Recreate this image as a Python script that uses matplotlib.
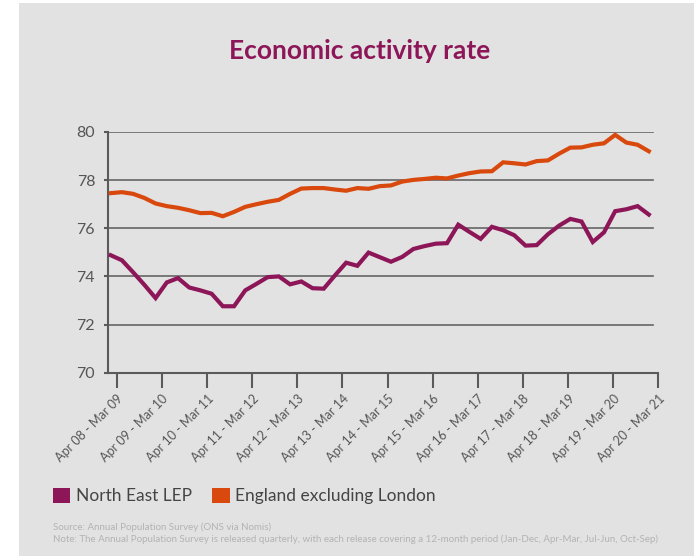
import numpy as np
import matplotlib.pyplot as plt
from matplotlib.patches import Rectangle, Patch

plt.rcParams['font.family'] = ['Lato', 'DejaVu Sans']

# Quarterly releases, Apr 08 - Mar 09 through Apr 20 - Mar 21
north_east = [74.88, 74.67, 74.17, 73.65, 73.10, 73.75, 73.93, 73.54, 73.42, 73.28,
              72.76, 72.76, 73.42, 73.69, 73.97, 74.00, 73.67, 73.79, 73.51, 73.49,
              74.04, 74.57, 74.44, 74.99, 74.80, 74.61, 74.81, 75.14, 75.26, 75.36,
              75.38, 76.15, 75.85, 75.56, 76.06, 75.92, 75.71, 75.28, 75.30, 75.75,
              76.11, 76.39, 76.28, 75.43, 75.83, 76.71, 76.79, 76.92, 76.57]
england_ex_london = [77.46, 77.50, 77.43, 77.26, 77.03, 76.92, 76.85, 76.75, 76.63, 76.64,
                     76.50, 76.68, 76.89, 77.00, 77.10, 77.18, 77.43, 77.65, 77.67, 77.67,
                     77.61, 77.56, 77.67, 77.64, 77.75, 77.78, 77.94, 78.01, 78.05, 78.10,
                     78.07, 78.19, 78.29, 78.36, 78.37, 78.74, 78.70, 78.65, 78.79, 78.82,
                     79.10, 79.35, 79.36, 79.47, 79.53, 79.88, 79.56, 79.47, 79.20]
tick_labels = ['Apr 08 - Mar 09', 'Apr 09 - Mar 10', 'Apr 10 - Mar 11', 'Apr 11 - Mar 12',
               'Apr 12 - Mar 13', 'Apr 13 - Mar 14', 'Apr 14 - Mar 15', 'Apr 15 - Mar 16',
               'Apr 16 - Mar 17', 'Apr 17 - Mar 18', 'Apr 18 - Mar 19', 'Apr 19 - Mar 20',
               'Apr 20 - Mar 21']
y_ticks = [70, 72, 74, 76, 78, 80]

purple = '#8c1657'
orange = '#d9480c'
axis_grey = '#5a5a5a'
bg = '#e2e2e2'

fig = plt.figure(figsize=(6.94, 5.56), dpi=100)
fig.patches.append(Rectangle((19 / 694, 0), 1, 1 - 3 / 556, transform=fig.transFigure,
                             facecolor=bg, edgecolor='none', zorder=-10))

ax = fig.add_axes([0.1552, 0.3297, 0.7934, 0.4329])
ax.set_facecolor(bg)

x = np.arange(len(north_east))
x_min, x_max = -0.27, 48.85

for yv in y_ticks[1:]:
    ax.plot([x_min, 48.35], [yv, yv], color='#666666', lw=1.2, zorder=1)

ax.plot(x, england_ex_london, color=orange, lw=3, solid_joinstyle='miter', zorder=3)
ax.plot(x, north_east, color=purple, lw=3, solid_joinstyle='miter', zorder=3)

ax.set_xlim(x_min, x_max)
ax.set_ylim(70, 80)
ax.set_xticks(np.linspace(0.55, 48.85, len(tick_labels)))
ax.set_xticklabels(tick_labels, rotation=45, ha='right', rotation_mode='anchor',
                   fontsize=9, color='#555555')
ax.set_yticks(y_ticks)
ax.set_yticklabels([str(v) for v in y_ticks], fontsize=11.5, color='#555555')
ax.tick_params(axis='x', length=11, width=1.5, color=axis_grey, pad=3)
ax.tick_params(axis='y', length=3, width=1.5, color=axis_grey, pad=6)

for side in ['top', 'right']:
    ax.spines[side].set_visible(False)
for side in ['left', 'bottom']:
    ax.spines[side].set_color(axis_grey)
    ax.spines[side].set_linewidth(1.5)

fig.text(360 / 694, 1 - 51 / 556, 'Economic activity rate', ha='center', va='center',
         fontsize=19, fontweight='bold', color=purple)

handles = [Patch(facecolor=purple, edgecolor='none', label='North East LEP'),
           Patch(facecolor=orange, edgecolor='none', label='England excluding London')]
fig.legend(handles=handles, loc='center left', bbox_to_anchor=(53 / 694, 1 - 496 / 556),
           ncol=2, frameon=False, fontsize=12.5, handlelength=1.0, handleheight=1.0,
           handletextpad=0.3, columnspacing=1.2, borderpad=0, borderaxespad=0,
           labelcolor='#444444')

fig.text(53 / 694, 1 - 527 / 556, 'Source: Annual Population Survey (ONS via Nomis)',
         fontsize=7, color='#b3b3b3', va='center')
fig.text(53 / 694, 1 - 539 / 556,
         'Note: The Annual Population Survey is released quarterly, with each release covering '
         'a 12-month period (Jan-Dec, Apr-Mar, Jul-Jun, Oct-Sep)',
         fontsize=7, color='#b3b3b3', va='center')

fig.savefig('out.png', dpi=100, facecolor='white')
